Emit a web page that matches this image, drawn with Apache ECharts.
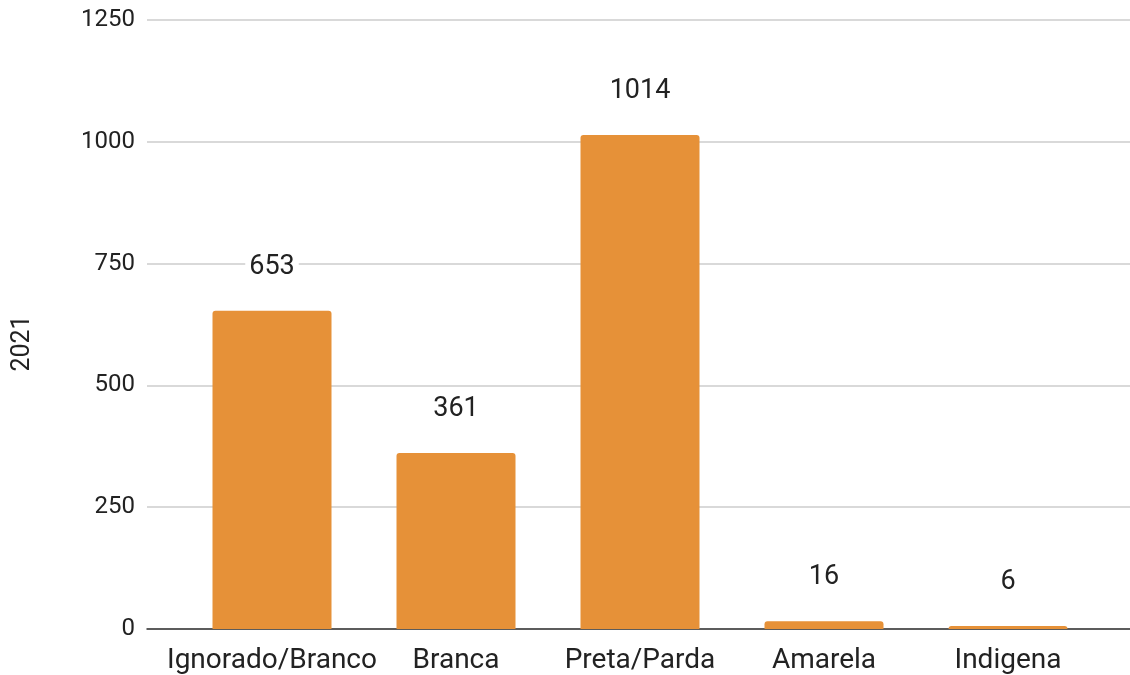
<!DOCTYPE html>
<html>
<head>
<meta charset="utf-8">
<style>
  html, body { margin: 0; padding: 0; background: #fff; }
  #chart { width: 1130px; height: 675px; }
</style>
<script src="https://cdn.jsdelivr.net/npm/echarts@6/dist/echarts.min.js"></script>
</head>
<body>
<div id="chart"></div>
<script>
// Categories and counts for 2021
const categories = ['Ignorado/Branco', 'Branca', 'Preta/Parda', 'Amarela', 'Indigena'];
const values2021 = [653, 361, 1014, 16, 6];
const yTicks = { min: 0, max: 1250, interval: 250 };
const seriesName = '2021';

const FONT = 'Roboto, "Liberation Sans", Arial, sans-serif';
const chart = echarts.init(document.getElementById('chart'), null, { renderer: 'canvas' });

chart.setOption({
  animation: false,
  backgroundColor: '#ffffff',
  grid: [
    // full-width grid: gridlines and baseline
    { left: 147, right: 0, top: 20, bottom: 46 },
    // inner grid holding the bars
    { left: 180, right: 30, top: 20, bottom: 46 }
  ],
  xAxis: [
    {
      gridIndex: 0, type: 'value', min: 0, max: 1,
      axisLine: { show: true, lineStyle: { color: '#333', width: 1.5 } },
      axisTick: { show: false }, axisLabel: { show: false }, splitLine: { show: false }
    },
    {
      gridIndex: 1, type: 'category', data: categories,
      axisLine: { show: false }, axisTick: { show: false },
      axisLabel: { interval: 0, fontFamily: FONT, fontSize: 28, color: '#222', margin: 18 }
    }
  ],
  yAxis: [
    {
      gridIndex: 0, type: 'value', min: yTicks.min, max: yTicks.max, interval: yTicks.interval,
      name: seriesName, nameLocation: 'middle', nameGap: 112, nameRotate: 90,
      nameTextStyle: { fontFamily: FONT, fontSize: 25, color: '#222', padding: [0, 38, 0, 0] },
      axisLine: { show: false }, axisTick: { show: false },
      axisLabel: { fontFamily: FONT, fontSize: 24, color: '#222', margin: 12,
                   formatter: v => String(v) },
      splitLine: { lineStyle: { color: '#cccccc', width: 1.5 } }
    },
    {
      gridIndex: 1, type: 'value', min: yTicks.min, max: yTicks.max, interval: yTicks.interval,
      show: false, splitLine: { show: false }
    }
  ],
  series: [{
    name: seriesName,
    type: 'bar',
    xAxisIndex: 1, yAxisIndex: 1,
    data: values2021,
    barWidth: 119,
    itemStyle: { color: '#E69138', borderRadius: [3, 3, 0, 0] },
    label: {
      show: true, position: 'top', distance: 30,
      fontFamily: FONT, fontSize: 27, color: '#222',
      backgroundColor: '#ffffff', padding: [0, 4]
    }
  }]
});
</script>
</body>
</html>
